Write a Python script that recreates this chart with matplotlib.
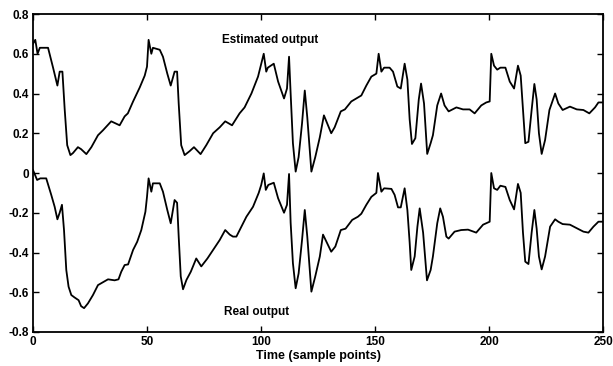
import numpy as np
import matplotlib
matplotlib.use('Agg')
import matplotlib.pyplot as plt

# estimated output (upper trace)
est_t = [0, 1, 2, 3, 6.6, 8.8, 10.7, 11.7, 12.9, 13.9, 15, 16.4, 17.5, 19.7, 21.1, 23.4, 25.6,
         28.5, 30.7, 34.3, 38, 40.2, 41.6, 43.9, 46.8, 49, 50, 50.7, 51.9, 52.6, 55.6, 57, 58.9,
         60.4, 62.1, 63.2, 63.9, 65, 66.5, 68.7, 70.6, 73.5, 76, 79, 81.9, 84.3, 87.3, 90.6,
         92.8, 95.8, 98.7, 100.1, 101.2, 102.3, 103, 105.6, 107.5, 110.1, 111.4, 112.3, 113,
         114, 115.2, 116.5, 118, 119.2, 120.3, 122.1, 123.8, 125.8, 127.6, 129.4, 130.8, 132.3,
         135, 136.8, 139.6, 142.5, 144, 146.2, 148.4, 150.6, 151.6, 152.8, 154, 156.4, 157.9,
         159.8, 161.3, 163, 164.2, 165.2, 166.2, 167.7, 169.2, 170.2, 171.5, 172.9, 174.4,
         175.4, 177.3, 179, 180.5, 182.3, 185.7, 188.6, 191.5, 193.7, 196.6, 198.8, 200.3, 201,
         202.2, 203.6, 205, 207.2, 209.1, 211, 212.7, 213.9, 214.9, 215.9, 217.3, 218.7, 219.9,
         220.9, 221.9, 223.1, 224.6, 226.5, 229, 230.4, 232.3, 235.5, 238.5, 241.4, 244, 246.5,
         248, 250]
est_v = [0.65, 0.67, 0.60, 0.63, 0.63, 0.53, 0.44, 0.51, 0.51, 0.32, 0.14, 0.09, 0.10, 0.13,
         0.12, 0.095, 0.13, 0.19, 0.215, 0.26, 0.24, 0.285, 0.30, 0.36, 0.43, 0.49, 0.535, 0.67,
         0.60, 0.63, 0.62, 0.585, 0.50, 0.44, 0.51, 0.51, 0.35, 0.14, 0.09, 0.11, 0.13, 0.095,
         0.14, 0.20, 0.23, 0.26, 0.24, 0.30, 0.33, 0.40, 0.485, 0.55, 0.60, 0.51, 0.53, 0.55,
         0.46, 0.375, 0.425, 0.585, 0.40, 0.15, 0.007, 0.08, 0.25, 0.415, 0.28, 0.007, 0.08,
         0.18, 0.29, 0.24, 0.20, 0.23, 0.31, 0.32, 0.36, 0.38, 0.39, 0.44, 0.485, 0.50, 0.60,
         0.51, 0.53, 0.53, 0.51, 0.435, 0.425, 0.55, 0.47, 0.27, 0.146, 0.175, 0.37, 0.45, 0.35,
         0.096, 0.15, 0.19, 0.34, 0.40, 0.34, 0.31, 0.33, 0.32, 0.32, 0.30, 0.34, 0.355, 0.36,
         0.60, 0.54, 0.52, 0.53, 0.53, 0.46, 0.425, 0.54, 0.49, 0.32, 0.15, 0.157, 0.317, 0.448,
         0.37, 0.20, 0.096, 0.166, 0.317, 0.40, 0.35, 0.317, 0.334, 0.32, 0.317, 0.30, 0.33,
         0.355, 0.355]

# real output (lower trace)
real_t = [0, 1.8, 3.2, 5.8, 8, 9.5, 10.7, 11.7, 12.7, 13.6, 14.6, 15.6, 16.8, 18.2, 20, 21.1,
          22.4, 24.1, 26.3, 28.5, 30.3, 32.9, 35.8, 37.5, 38.7, 40.2, 41.7, 43.9, 45.7, 47.5,
          49.3, 50, 50.7, 51.9, 52.6, 55.6, 57, 58.9, 60.4, 62.1, 63.2, 63.9, 64.8, 65.8, 67.3,
          69.2, 71.6, 73.8, 76.5, 79.4, 81.9, 84.3, 86.3, 87.7, 89.2, 91.4, 93.6, 96.5, 99,
          100.1, 101.2, 102.1, 103.2, 105.6, 107.5, 110.1, 111.4, 112.3, 113, 114, 115.2, 116.5,
          118, 119.2, 120.3, 122.1, 123.8, 125.8, 127.2, 129.4, 130.8, 132.6, 135, 137.1, 140,
          142.5, 144, 146.2, 148.4, 150.6, 151.3, 152.8, 154, 157.2, 158.6, 160.1, 161.3, 163,
          164.2, 165.2, 165.9, 167.4, 168.6, 169.6, 171.1, 172.8, 174.4, 175.4, 177.3, 178.6,
          179.8, 181.3, 182.3, 184.9, 187.8, 190.8, 194.4, 197.4, 200.3, 201, 202.2, 203.6, 205,
          207.2, 209.1, 211, 212.7, 213.9, 214.9, 215.9, 217.3, 218.7, 219.9, 220.9, 221.9,
          223.1, 224.6, 226.8, 229, 230.4, 232.3, 235.5, 238.5, 241.4, 243.6, 245.8, 248, 250]
real_v = [0.015, -0.035, -0.027, -0.027, -0.11, -0.17, -0.233, -0.20, -0.16, -0.287, -0.488,
          -0.572, -0.614, -0.626, -0.64, -0.67, -0.68, -0.656, -0.614, -0.564, -0.552, -0.535,
          -0.54, -0.535, -0.497, -0.463, -0.46, -0.387, -0.346, -0.287, -0.195, -0.12, -0.027,
          -0.094, -0.052, -0.052, -0.094, -0.186, -0.253, -0.136, -0.15, -0.32, -0.52, -0.585,
          -0.538, -0.497, -0.43, -0.47, -0.43, -0.38, -0.337, -0.287, -0.31, -0.32, -0.32,
          -0.27, -0.22, -0.17, -0.10, -0.06, -0.002, -0.085, -0.06, -0.049, -0.127, -0.20,
          -0.16, -0.005, -0.25, -0.454, -0.58, -0.505, -0.337, -0.186, -0.32, -0.597, -0.52,
          -0.42, -0.31, -0.362, -0.396, -0.37, -0.287, -0.28, -0.236, -0.22, -0.205, -0.16,
          -0.12, -0.10, 0.0, -0.094, -0.077, -0.08, -0.11, -0.173, -0.173, -0.077, -0.186,
          -0.35, -0.488, -0.42, -0.27, -0.178, -0.30, -0.54, -0.488, -0.42, -0.253, -0.178,
          -0.22, -0.32, -0.33, -0.295, -0.287, -0.285, -0.30, -0.26, -0.245, 0.0, -0.077,
          -0.085, -0.064, -0.07, -0.136, -0.183, -0.055, -0.10, -0.30, -0.446, -0.458, -0.30,
          -0.186, -0.28, -0.42, -0.485, -0.42, -0.27, -0.233, -0.245, -0.257, -0.26, -0.278,
          -0.295, -0.30, -0.27, -0.245, -0.245]

plt.rcParams['font.family'] = ['Liberation Sans', 'DejaVu Sans']

fig = plt.figure(figsize=(6.13, 3.66), dpi=100)
ax = fig.add_axes([33/613, 1-332/366, 570/613, 318/366])

ax.plot(est_t, est_v, color='black', lw=1.3)
ax.plot(real_t, real_v, color='black', lw=1.3)

ax.set_xlim(0, 250)
ax.set_ylim(-0.8, 0.8)
ax.set_xticks([0, 50, 100, 150, 200, 250])
ax.set_yticks(np.arange(-0.8, 0.81, 0.2))
ax.set_yticklabels(['-0.8', '-0.6', '-0.4', '-0.2', '0', '0.2', '0.4', '0.6', '0.8'])
ax.tick_params(direction='in', length=4, width=1, top=True, right=True,
               labelsize=8.5, pad=3)
for lab in ax.get_xticklabels() + ax.get_yticklabels():
    lab.set_fontweight('bold')
for s in ax.spines.values():
    s.set_linewidth(1.3)

ax.text(104, 0.67, 'Estimated output', ha='center', va='center', fontsize=8.5, fontweight='bold')
ax.text(98, -0.70, 'Real output', ha='center', va='center', fontsize=8.5, fontweight='bold')
ax.set_xlabel('Time (sample points)', fontsize=9, fontweight='bold', labelpad=1)

fig.savefig('out.png', dpi=100)
